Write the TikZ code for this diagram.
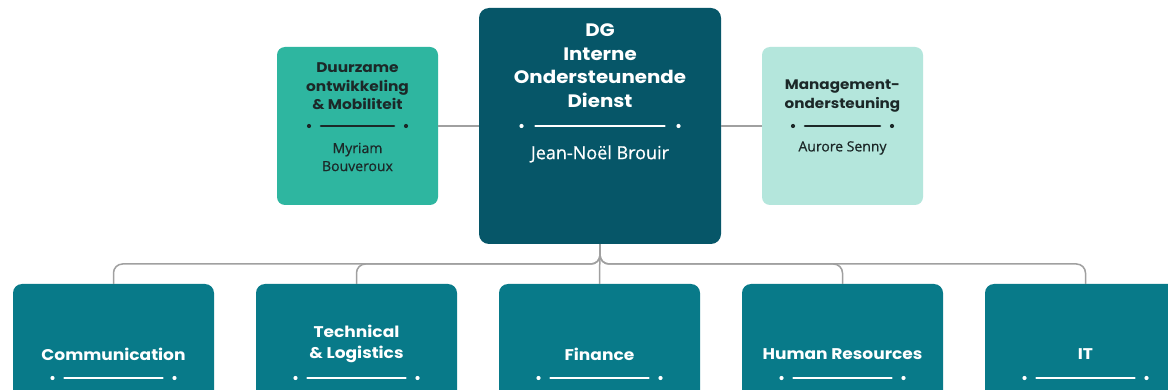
\documentclass[tikz,border=0pt]{standalone}
\usepackage{fontspec}
\setmainfont{Open Sans}
\newfontfamily\namefont[FakeBold=0.6]{Open Sans}
\newfontfamily\titlefont[FakeStretch=1.1]{Poppins}
\definecolor{dgc}{RGB}{6,86,104}
\definecolor{lbc}{RGB}{46,182,160}
\definecolor{rbc}{RGB}{180,230,220}
\definecolor{bbc}{RGB}{8,122,137}
\definecolor{linec}{RGB}{160,160,160}
\definecolor{darktxt}{RGB}{28,40,40}
\newcommand\mysep[5]{%
  \draw[#5, line width=2.6pt, line cap=round] (#1-#4,#2) -- (#1+#4,#2);
  \fill[#5] (#1-#3,#2) circle (2.1pt) (#1+#3,#2) circle (2.1pt);}
\begin{document}
\begin{tikzpicture}[x=1pt,y=-1pt,
  box/.style={draw=none, inner sep=0pt, rounded corners=10pt},
  conn/.style={draw=linec, line width=1.5pt},
  ttl/.style 2 args={font=\titlefont\bfseries\fontsize{#1}{#2}\selectfont, align=center, inner sep=0pt},
  nm/.style 2 args={font=\namefont\fontsize{#1}{#2}\selectfont, align=center, inner sep=0pt},
]
\useasboundingbox (0,0) rectangle (1168,390);
\clip (0,0) rectangle (1168,390);
\fill[white] (0,0) rectangle (1168,390);
% top boxes
\node[box, fill=dgc, minimum width=242pt, minimum height=236pt] (dg) at (600,126) {};
\node[box, fill=lbc, minimum width=161pt, minimum height=158pt, rounded corners=8pt] (lb) at (357.5,126) {};
\node[box, fill=rbc, minimum width=161pt, minimum height=158pt, rounded corners=8pt] (rb) at (842.5,126) {};
% bottom boxes
\foreach \n/\cx in {1/113.5,2/356.5,3/599.5,4/842.5,5/1085.5}{
  \node[box, fill=bbc, minimum width=201pt, minimum height=160pt, rounded corners=9pt] (b\n) at (\cx,364) {};
}
% connectors
\draw[conn] (lb.east) -- (dg.west);
\draw[conn] (dg.east) -- (rb.west);
\coordinate (bus) at (600,264);
\foreach \n in {1,2,4,5}{
  \draw[conn, rounded corners=9pt] (dg.south) |- (b\n.north |- bus) -- (b\n.north);
}
\draw[conn] (dg.south) -- (b3.north);
% DG text
\node[ttl={18}{23.5}, white] (dgt) at (600,65.5) {DG\\Interne\\Ondersteunende\\Dienst};
\mysep{600}{126}{78.5}{64.5}{white}
\node[nm={18}{22}, white] (dgn) at (600,154) {Jean-Noël Brouir};
% left text
\node[ttl={14}{18.5}, darktxt] (lbt) at (357.5,86.5) {Duurzame\\ontwikkeling\\\&~Mobiliteit};
\mysep{357.5}{126}{48.5}{36.5}{darktxt}
\node[nm={14}{18}, darktxt] (lbn) at (357.5,157) {Myriam\\Bouveroux};
% right text
\node[ttl={13.8}{19}, darktxt] (rbt) at (842.5,96.5) {Management-\\ondersteuning};
\mysep{842.5}{126}{49.5}{37.5}{darktxt}
\node[nm={14}{18}, darktxt] (rbn) at (842.5,148) {Aurore Senny};
% bottom text
\node[ttl={15.5}{21}, white] (b1t) at (113.5,354) {Communication};
\node[ttl={15.5}{21}, white] (b2t) at (356.5,343.5) {Technical\\\&~Logistics};
\node[ttl={15.5}{21}, white] (b3t) at (599.5,354) {Finance};
\node[ttl={15.5}{21}, white] (b4t) at (842.5,354) {Human Resources};
\node[ttl={15.5}{21}, white] (b5t) at (1085.5,354) {IT};
\foreach \cx in {113.5,356.5,599.5,842.5,1085.5}{
  \mysep{\cx}{378}{61}{49}{white}
}
\end{tikzpicture}
\end{document}
